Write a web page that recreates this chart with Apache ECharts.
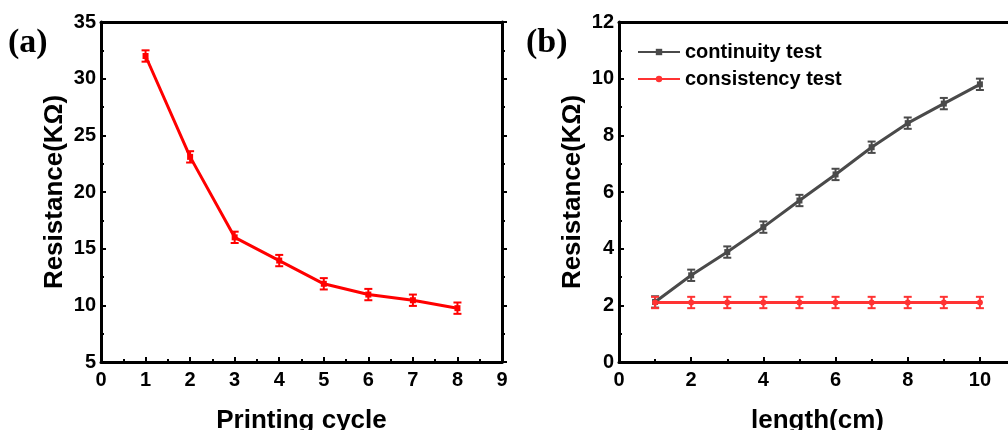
<!DOCTYPE html>
<html>
<head>
<meta charset="utf-8">
<script src="https://cdn.jsdelivr.net/npm/echarts@6/dist/echarts.min.js"></script>
<style>html,body{margin:0;padding:0;background:#fff;}#c{width:1008px;height:430px;}</style>
</head>
<body>
<div id="c"></div>
<script>
// Panel (a)
const cyclesA = [1, 2, 3, 4, 5, 6, 7, 8];
const resistA = [32, 23.1, 16, 13.95, 11.9, 10.95, 10.45, 9.75];
const errA = [0.5, 0.5, 0.5, 0.5, 0.5, 0.5, 0.5, 0.5];
// Panel (b)
const lengthB = [1, 2, 3, 4, 5, 6, 7, 8, 9, 10];
const continuity = [2.12, 3.06, 3.88, 4.76, 5.7, 6.62, 7.58, 8.43, 9.12, 9.8];
const consistency = [2.1, 2.1, 2.1, 2.1, 2.1, 2.1, 2.1, 2.1, 2.1, 2.1];
const errCont = [0.2, 0.2, 0.2, 0.2, 0.2, 0.2, 0.2, 0.2, 0.2, 0.2];
const errCons = [0.2, 0.2, 0.2, 0.2, 0.2, 0.2, 0.2, 0.2, 0.2, 0.2];
const namesB = ['continuity test', 'consistency test'];

const FONT = '"Liberation Sans", Arial, sans-serif';
const RED = '#ff0000', GRAY = '#4a4a4a', RED2 = '#ff3333';

function errSeries(xs, ys, es, color, xi, yi) {
  return {
    type: 'custom', xAxisIndex: xi, yAxisIndex: yi, silent: true, z: 3,
    data: xs.map((x, i) => [x, ys[i] - es[i], ys[i] + es[i]]),
    renderItem: function (params, api) {
      const lo = api.coord([api.value(0), api.value(1)]);
      const hi = api.coord([api.value(0), api.value(2)]);
      const w = 4;
      const st = { stroke: color, lineWidth: 2 };
      return { type: 'group', children: [
        { type: 'line', shape: { x1: lo[0], y1: lo[1], x2: hi[0], y2: hi[1] }, style: st },
        { type: 'line', shape: { x1: lo[0] - w, y1: lo[1], x2: lo[0] + w, y2: lo[1] }, style: st },
        { type: 'line', shape: { x1: hi[0] - w, y1: hi[1], x2: hi[0] + w, y2: hi[1] }, style: st }
      ]};
    }
  };
}

function axisX(gi, min, max, interval, name, pos, hideMax) {
  const main = pos === 'bottom';
  return {
    type: 'value', gridIndex: gi, position: pos, min: min, max: max, interval: interval,
    name: main ? name : '', nameLocation: 'middle', nameGap: 46,
    nameTextStyle: { fontFamily: FONT, fontSize: 26, fontWeight: 'bold', color: '#000' },
    axisLine: { show: true, onZero: false, lineStyle: { color: '#000', width: 3 } },
    axisTick: { show: main, inside: true, length: 5, lineStyle: { color: '#000', width: 2 } },
    minorTick: { show: main, splitNumber: 2, length: 3, lineStyle: { color: '#000', width: 2 } },
    axisLabel: { show: main, showMaxLabel: !hideMax, margin: 8, fontFamily: FONT, fontSize: 20, fontWeight: 'bold', color: '#000' },
    splitLine: { show: false }, minorSplitLine: { show: false }
  };
}
function axisY(gi, min, max, interval, name, pos) {
  const main = pos === 'left';
  return {
    type: 'value', gridIndex: gi, position: pos, min: min, max: max, interval: interval,
    name: main ? name : '', nameLocation: 'middle', nameGap: 33,
    nameTextStyle: { fontFamily: FONT, fontSize: 26, fontWeight: 'bold', color: '#000' },
    axisLine: { show: true, onZero: false, lineStyle: { color: '#000', width: 3 } },
    axisTick: { show: true, inside: main, length: 5, lineStyle: { color: '#000', width: 2 } },
    minorTick: { show: true, splitNumber: 2, length: 3, lineStyle: { color: '#000', width: 2 } },
    axisLabel: { show: main, margin: 5, fontFamily: FONT, fontSize: 20, fontWeight: 'bold', color: '#000' },
    splitLine: { show: false }, minorSplitLine: { show: false }
  };
}

const chart = echarts.init(document.getElementById('c'));
chart.setOption({
  animation: false,
  backgroundColor: '#fff',
  graphic: [
    { type: 'text', left: 8, top: 26, style: { text: '(a)', font: 'bold 34px "Liberation Serif", "Times New Roman", serif', fill: '#000' } },
    { type: 'text', left: 526, top: 26, style: { text: '(b)', font: 'bold 34px "Liberation Serif", "Times New Roman", serif', fill: '#000' } }
  ],
  legend: {
    orient: 'vertical', left: 632, top: 37, itemWidth: 42, itemHeight: 8, itemGap: 7,
    data: namesB,
    textStyle: { fontFamily: FONT, fontSize: 20, fontWeight: 'bold', color: '#000' }
  },
  grid: [
    { left: 101, top: 22, width: 401, height: 340, outerBoundsMode: 'none', containLabel: false },
    { left: 619, top: 22, width: 397, height: 340, outerBoundsMode: 'none', containLabel: false }
  ],
  xAxis: [
    axisX(0, 0, 9, 1, 'Printing cycle', 'bottom', false),
    axisX(0, 0, 9, 1, '', 'top', false),
    axisX(1, 0, 11, 2, 'length(cm)', 'bottom', true),
    axisX(1, 0, 11, 2, '', 'top', false)
  ],
  yAxis: [
    axisY(0, 5, 35, 5, 'Resistance(KΩ)', 'left'),
    axisY(0, 5, 35, 5, '', 'right'),
    axisY(1, 0, 12, 2, 'Resistance(KΩ)', 'left'),
    axisY(1, 0, 12, 2, '', 'right')
  ],
  series: [
    { type: 'line', xAxisIndex: 0, yAxisIndex: 0, data: cyclesA.map((x, i) => [x, resistA[i]]),
      symbol: 'rect', symbolSize: 6, lineStyle: { color: RED, width: 3 }, itemStyle: { color: RED }, z: 4 },
    errSeries(cyclesA, resistA, errA, RED, 0, 0),
    { name: namesB[0], type: 'line', xAxisIndex: 2, yAxisIndex: 2, data: lengthB.map((x, i) => [x, continuity[i]]),
      symbol: 'rect', symbolSize: 6, lineStyle: { color: GRAY, width: 3 }, itemStyle: { color: GRAY }, z: 4 },
    errSeries(lengthB, continuity, errCont, GRAY, 2, 2),
    { name: namesB[1], type: 'line', xAxisIndex: 2, yAxisIndex: 2, data: lengthB.map((x, i) => [x, consistency[i]]),
      symbol: 'circle', symbolSize: 6, lineStyle: { color: RED2, width: 3 }, itemStyle: { color: RED2 }, z: 4 },
    errSeries(lengthB, consistency, errCons, RED2, 2, 2)
  ]
});
</script>
</body>
</html>
